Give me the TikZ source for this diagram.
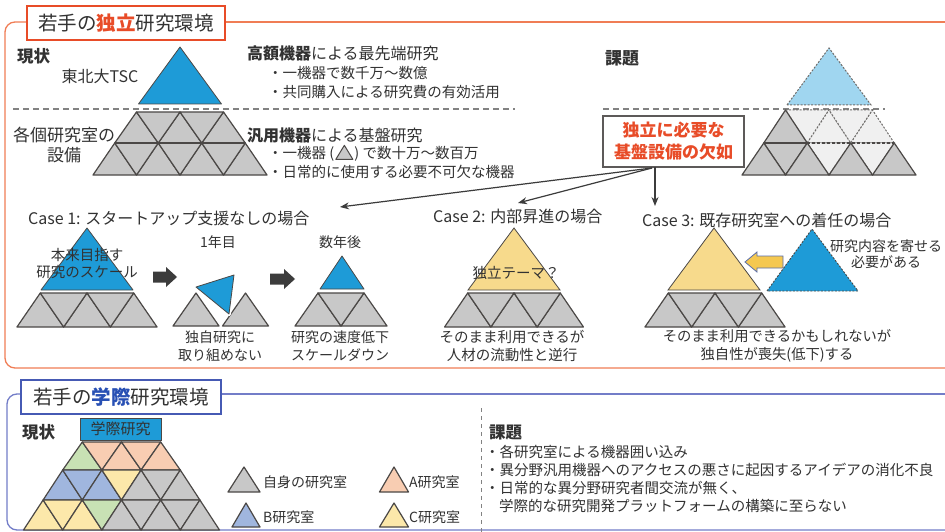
\documentclass[tikz,border=0pt]{standalone}
\usepackage{fontspec}
\setmainfont{Noto Sans CJK JP}
\usetikzlibrary{arrows.meta}
\definecolor{tc}{RGB}{50,50,50}
\definecolor{redt}{RGB}{232,76,40}
\definecolor{oframe}{RGB}{240,125,85}
\definecolor{bluet}{RGB}{40,80,180}
\definecolor{bframe}{RGB}{115,125,200}
\definecolor{bbox}{RGB}{70,90,180}
\definecolor{trigrey}{RGB}{200,200,200}
\definecolor{tridark}{RGB}{75,72,70}
\definecolor{tblue}{RGB}{30,155,215}
\definecolor{lblue}{RGB}{160,214,240}
\definecolor{tyellow}{RGB}{247,218,140}
\definecolor{arrdark}{RGB}{60,60,60}
\definecolor{ltri}{RGB}{240,240,240}
\definecolor{tgreen}{RGB}{200,225,180}
\definecolor{tsalmon}{RGB}{248,205,178}
\definecolor{tbblue}{RGB}{160,182,222}
\definecolor{tyel}{RGB}{252,232,170}
\definecolor{dgrey}{RGB}{130,130,130}
\definecolor{yarrow}{RGB}{245,200,80}
\definecolor{yarrowd}{RGB}{90,110,170}
\newcommand\fsz[2]{\fontsize{#1pt}{#2pt}\selectfont}
\newcommand\utri[5]{\draw[#5] ({#1-#3/2},#2) -- ({#1},{#2-#4}) -- ({#1+#3/2},#2) -- cycle;}
\newcommand\dtri[5]{\draw[#5] ({#1-#3/2},{#2-#4}) -- ({#1+#3/2},{#2-#4}) -- ({#1},#2) -- cycle;}
\newcommand\prow[6]{%
  \foreach \i in {1,...,#3}{\pgfmathsetmacro\xc{#1+(\i-(#3+1)/2)*#4}\utri{\xc}{#2}{#4}{#5}{#6}}%
  \pgfmathtruncatemacro\ndn{#3-1}%
  \foreach \i in {1,...,\ndn}{\pgfmathsetmacro\xc{#1+(\i-#3/2)*#4}\dtri{\xc}{#2}{#4}{#5}{#6}}}
\newcommand\blockarrow[3]{\fill[arrdark] (#1,{#3-5.5}) -- ({#2-11},{#3-5.5}) -- ({#2-11},{#3-10}) -- (#2,#3) -- ({#2-11},{#3+10}) -- ({#2-11},{#3+5.5}) -- (#1,{#3+5.5}) -- cycle;}
\begin{document}
\begin{tikzpicture}[x=1pt,y=-1pt,
  tri/.style={fill=trigrey, draw=tridark, line width=1.2pt, line join=round},
  ltrist/.style={fill=ltri, draw=tridark!80, line width=1pt, dash pattern=on 2pt off 1.5pt},
  bluetri/.style={fill=tblue, draw=tridark, line width=0.8pt, line join=round},
  txt/.style={inner sep=0pt, text=tc, font=\fsz{14.5}{18}},
  hd/.style={inner sep=0pt, text=tc, font=\fsz{16}{20}},
  sep/.style={dgrey, line width=1.2pt, dash pattern=on 6pt off 4pt},
  conn/.style={arrdark, line width=1.2pt, -{Stealth[length=9pt,width=7pt]}},
  frameo/.style={oframe, line width=1.3pt, rounded corners=10pt},
  frameb/.style={bframe, line width=1.3pt, rounded corners=10pt}]
\useasboundingbox (0,0) rectangle (945,532);
\fill[white] (0,0) rectangle (945,532);
% ---------- frames ----------
\draw[frameo] (27,22) -- (5,22) -- (5,368) -- (960,368);
\draw[oframe, line width=1.3pt] (225,22) -- (960,22);
\node[draw=redt, line width=1.5pt, fill=white, minimum width=198pt, minimum height=34pt, inner sep=0pt, text=tc, font=\fsz{19.5}{22}] (title1) at (126,23) {若手の{\bfseries\color{redt}独立}研究環境};
\draw[frameb] (21,394) -- (7,394) -- (7,530) -- (960,530);
\draw[bframe, line width=1.3pt] (221,394) -- (960,394);
\node[draw=bbox, line width=1.5pt, fill=white, minimum width=200pt, minimum height=34pt, inner sep=0pt, text=tc, font=\fsz{19.5}{22}] (title2) at (121,397) {若手の{\bfseries\color{bluet}学際}研究環境};
% ---------- top: current ----------
\node[hd, anchor=west, font=\fsz{16.5}{20}\bfseries] (gen1) at (17,56) {現状};
\node[hd] (tsc) at (100,76) {東北大TSC};
\draw[sep] (13,109) -- (515,109);
\prow{180}{175}{4}{43.5}{32}{tri}
\prow{180}{143}{3}{43.5}{31}{tri}
\draw[tridark, line width=2pt] (114.75,143) -- (245.25,143);
\draw[bluetri] (138.5,104) -- (180,47) -- (221.5,104) -- cycle;
\node[hd, align=center, font=\fsz{17}{20}] (kakko) at (64,145) {各個研究室の\\設備};
\node[hd, anchor=west] (h1) at (247,53) {{\bfseries 高額機器}による最先端研究};
\node[txt, anchor=west] (b1) at (268,73) {・一機器で数千万～数億};
\node[txt, anchor=west] (b2) at (268,92) {・共同購入による研究費の有効活用};
\node[hd, anchor=west] (h2) at (247,135) {{\bfseries 汎用機器}による基盤研究};
\node[txt, anchor=west] (b3) at (268,153) {・一機器 (\hspace{1pt}\tikz[baseline=1pt]\draw[fill=trigrey, draw=tridark, line width=1pt, line join=round] (0pt,0pt) -- (8.5pt,14pt) -- (17pt,0pt) -- cycle;\hspace{1pt}) で数十万～数百万};
\node[txt, anchor=west] (b4) at (268,172) {・日常的に使用する必要不可欠な機器};
% ---------- top: problem ----------
\node[hd, anchor=west, font=\fsz{17}{20}\bfseries] (kadai1) at (605,58) {課題};
\draw[sep] (603,109) -- (885,109);
\dtri{807.25}{143}{43.5}{33}{ltrist}
\utri{829}{143}{43.5}{33}{ltrist}
\dtri{850.75}{143}{43.5}{33}{ltrist}
\utri{872.5}{143}{43.5}{33}{ltrist}
\dtri{829}{175}{43.5}{32}{ltrist}
\dtri{872.5}{175}{43.5}{32}{ltrist}
\utri{785.5}{143}{43.5}{33}{tri}
\dtri{785.5}{175}{43.5}{32}{tri}
\foreach \xx in {763.75,807.25,850.75,894.25}{\utri{\xx}{175}{43.5}{32}{tri}}
\draw[tridark, line width=2.2pt] (763.75,143) -- (807.25,143);
\draw[tridark, line width=2.2pt, dash pattern=on 3pt off 2pt] (807.25,143) -- (894.25,143);
\draw[fill=lblue, draw=tridark!80, line width=1pt, dash pattern=on 2pt off 1.5pt] (787,105) -- (829,48) -- (871,105) -- cycle;
\node[draw=tridark!90, line width=1.2pt, fill=white, minimum width=141pt, minimum height=51pt, inner sep=0pt, align=center, text=redt, font=\fsz{17}{22}\bfseries] (lack) at (673.5,141.5) {独立に必要な\\基盤設備の欠如};
\coordinate (src) at (652,168);
\coordinate (t1) at (340,207);
\coordinate (t2) at (518,203);
\coordinate (srcd) at (655,167);
\coordinate (t3) at (655,206);
\draw[conn] (src) -- (t1);
\draw[conn] (src) -- (t2);
\draw[conn] (srcd) -- (t3);
% ---------- case 1 ----------
\node[hd, anchor=west] (case1) at (28,218) {Case 1: スタートアップ支援なしの場合};
\prow{87}{327}{3}{46.7}{34}{tri}
\draw[bluetri] (41,290) -- (87,228) -- (133,290) -- cycle;
\node[txt, align=center, font=\fsz{14.5}{17}] (scale) at (87,263.5) {本来目指す\\研究のスケール};
\blockarrow{153}{177}{277}
\node[txt, font=\fsz{14}{17}] (y1) at (218,242) {1年目};
\utri{196}{326}{46}{33}{tri}
\utri{245.5}{326}{46}{33}{tri}
\draw[white, line width=4pt, line join=round] (196,287) -- (234,275) -- (229,314) -- cycle;
\draw[bluetri] (196,287) -- (234,275) -- (229,314) -- cycle;
\blockarrow{270}{295}{279}
\node[txt, font=\fsz{14}{17}] (yn) at (340,242) {数年後};
\prow{341}{326}{2}{46}{33}{tri}
\draw[bluetri] (320,289) -- (342,256) -- (364,289) -- cycle;
\node[txt, align=center, font=\fsz{14}{18}] (c1a) at (220,346) {独自研究に\\取り組めない};
\node[txt, align=center, font=\fsz{14}{18}] (c1b) at (340,346) {研究の速度低下\\スケールダウン};
% ---------- case 2 ----------
\node[hd, anchor=west] (case2) at (433,216) {Case 2: 内部昇進の場合};
\prow{514}{327}{3}{46.3}{34}{tri}
\draw[fill=tyellow, draw=tridark, line width=0.8pt] (468,290) -- (514,228) -- (560,290) -- cycle;
\node[txt] (theme) at (516,273) {独立テーマ？};
\node[txt, align=center, font=\fsz{14.5}{18}] (c2) at (512,346) {そのまま利用できるが\\人材の流動性と逆行};
% ---------- case 3 ----------
\node[hd, anchor=west] (case3) at (642,220) {Case 3: 既存研究室への着任の場合};
\prow{715}{327}{3}{46.7}{34}{tri}
\draw[fill=tyellow, draw=tridark, line width=0.8pt] (668,290) -- (714,228) -- (760,290) -- cycle;
\draw[fill=tblue, draw=tridark, line width=0.9pt, dash pattern=on 2pt off 1.5pt] (767,291) -- (812,229) -- (858,291) -- cycle;
\draw[fill=yarrow, draw=yarrowd, line width=0.8pt] (783,256) -- (757,256) -- (757,252) -- (745,262) -- (757,272) -- (757,268) -- (783,268) -- cycle;
\node[txt, align=center, font=\fsz{14}{16}] (yoseru) at (886,254.5) {研究内容を寄せる\\必要がある};
\node[txt, align=center, font=\fsz{14.3}{18}] (c3) at (777,346) {そのまま利用できるかもしれないが\\独自性が喪失(低下)する};
% ---------- bottom ----------
\node[hd, anchor=west, font=\fsz{16.5}{20}\bfseries] (gen2) at (22,432) {現状};
% row 1
\utri{82.3}{470}{39.2}{28}{tri, fill=tgreen}
\dtri{101.9}{470}{39.2}{28}{tri, fill=tsalmon}
\utri{121.5}{470}{39.2}{28}{tri, fill=tsalmon}
\dtri{141.1}{470}{39.2}{28}{tri, fill=tsalmon}
\utri{160.7}{470}{39.2}{28}{tri, fill=tsalmon}
% row 2
\utri{62.7}{500}{39.2}{30}{tri, fill=tbblue}
\dtri{82.3}{500}{39.2}{30}{tri, fill=tbblue}
\utri{101.9}{500}{39.2}{30}{tri, fill=tbblue}
\dtri{121.5}{500}{39.2}{30}{tri, fill=tyel}
\utri{141.1}{500}{39.2}{30}{tri}
\dtri{160.7}{500}{39.2}{30}{tri}
\utri{180.3}{500}{39.2}{30}{tri}
% row 3
\utri{43.1}{530}{39.2}{30}{tri, fill=tyel}
\dtri{62.7}{530}{39.2}{30}{tri, fill=tyel}
\utri{82.3}{530}{39.2}{30}{tri, fill=tyel}
\dtri{101.9}{530}{39.2}{30}{tri, fill=tgreen}
\utri{121.5}{530}{39.2}{30}{tri}
\dtri{141.1}{530}{39.2}{30}{tri}
\utri{160.7}{530}{39.2}{30}{tri}
\dtri{180.3}{530}{39.2}{30}{tri}
\utri{199.9}{530}{39.2}{30}{tri}
\node[fill=tblue, draw=tridark, line width=1pt, minimum width=81pt, minimum height=22pt, inner sep=0pt, text=tc, font=\fsz{15}{17}] (gakusai) at (120.5,429) {学際研究};
% legend
\utri{244}{492}{32}{25}{tri}
\node[txt, anchor=west, font=\fsz{14}{17}] (lg1) at (263,482) {自身の研究室};
\utri{394}{492}{29}{25}{tri, fill=tsalmon}
\node[txt, anchor=west, font=\fsz{14}{17}] (lg2) at (409,482) {A研究室};
\utri{246}{527}{28}{24}{tri, fill=tbblue}
\node[txt, anchor=west, font=\fsz{14}{17}] (lg3) at (263,517) {B研究室};
\utri{394}{527}{29}{24}{tri, fill=tyel}
\node[txt, anchor=west, font=\fsz{14}{17}] (lg4) at (409,517) {C研究室};
% problem
\draw[dgrey, line width=1pt, dash pattern=on 4pt off 4pt] (481,408) -- (481,532);
\node[hd, anchor=west, font=\fsz{16.5}{20}\bfseries] (kadai2) at (489,433) {課題};
\node[txt, anchor=west] (p1) at (485,452) {・各研究室による機器囲い込み};
\node[txt, anchor=west] (p2) at (485,470) {・異分野汎用機器へのアクセスの悪さに起因するアイデアの消化不良};
\node[txt, anchor=west] (p3) at (485,488) {・日常的な異分野研究者間交流が無く、};
\node[txt, anchor=west] (p4) at (499,506) {学際的な研究開発プラットフォームの構築に至らない};
\end{tikzpicture}
\end{document}
